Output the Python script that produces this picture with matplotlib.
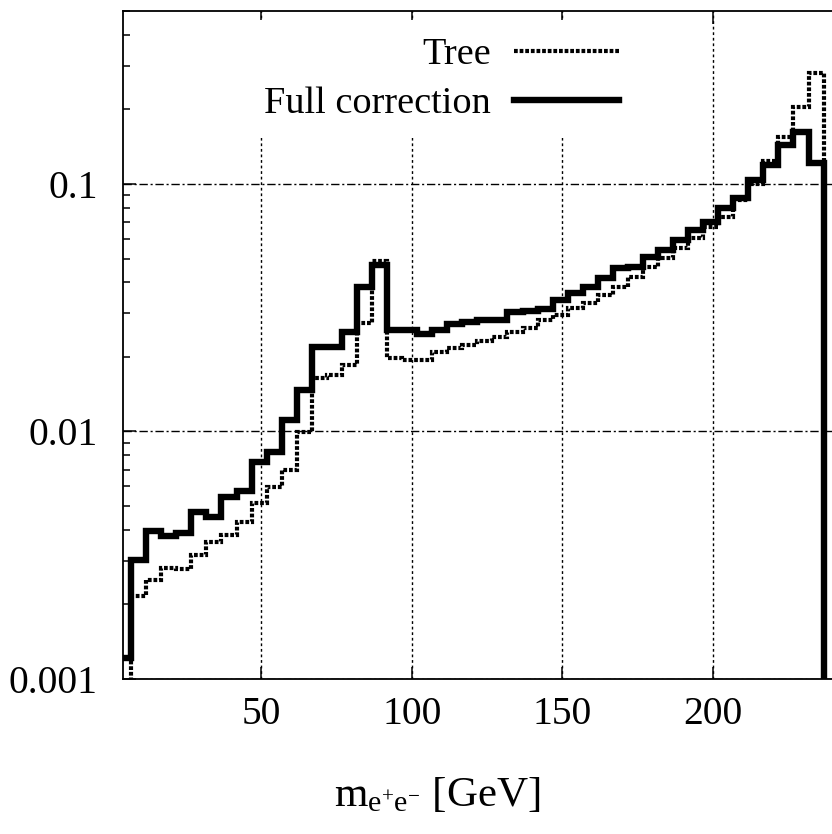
import matplotlib
matplotlib.use("Agg")
import matplotlib.pyplot as plt
from matplotlib.ticker import LogLocator, FixedLocator, NullFormatter, FixedFormatter
from matplotlib.lines import Line2D

plt.rcParams['font.family'] = ['Liberation Serif', 'DejaVu Serif']
plt.rcParams['mathtext.fontset'] = 'custom'
plt.rcParams['mathtext.rm'] = 'Liberation Serif'
plt.rcParams['mathtext.it'] = 'Liberation Serif:italic'

# bin edges in GeV
bin_edges = [1.8, 6.8, 11.8, 16.8, 21.8, 26.8, 31.8, 36.8, 41.8, 46.8, 51.8, 56.8,
             61.8, 66.8, 71.8, 76.8, 81.8, 86.8, 91.8, 96.8, 101.8, 106.8, 111.8,
             116.8, 121.8, 126.8, 131.8, 136.8, 141.8, 146.8, 151.8, 156.8, 161.8,
             166.8, 171.8, 176.8, 181.8, 186.8, 191.8, 196.8, 201.8, 206.8, 211.8,
             216.8, 221.8, 226.8, 231.8, 236.8]

full_correction = [0.00122, 0.00303, 0.00397, 0.00379, 0.00388, 0.00471, 0.00450, 0.00542,
                   0.00576, 0.00751, 0.00824, 0.0111, 0.0147, 0.0219, 0.0219, 0.0253,
                   0.0385, 0.0471, 0.0257, 0.0257, 0.0248, 0.0257, 0.0272, 0.0278,
                   0.0281, 0.0283, 0.0305, 0.0308, 0.0312, 0.0340, 0.0362, 0.0385,
                   0.0416, 0.0456, 0.0463, 0.0508, 0.0541, 0.0594, 0.0652, 0.0705,
                   0.0798, 0.0875, 0.1038, 0.1193, 0.1439, 0.1626, 0.1213]

tree = [0.0009, 0.00217, 0.00251, 0.00280, 0.00277, 0.00317, 0.00359, 0.00382,
        0.00432, 0.00513, 0.00595, 0.00699, 0.00998, 0.0164, 0.0169, 0.0186,
        0.0275, 0.049, 0.0198, 0.0195, 0.0195, 0.0210, 0.0217, 0.0224,
        0.0233, 0.0240, 0.0253, 0.0262, 0.0281, 0.0296, 0.0315, 0.0330,
        0.0356, 0.0385, 0.0422, 0.0463, 0.0501, 0.0550, 0.0603, 0.0673,
        0.0738, 0.0861, 0.100, 0.124, 0.155, 0.205, 0.280]

x_ticks = [50, 100, 150, 200]
y_ticks = [0.001, 0.01, 0.1]
y_tick_labels = ['0.001', '0.01', '0.1']
series_labels = ['Tree', 'Full correction']
x_label = r'$\mathrm{m}_{\mathrm{e}^{+}\mathrm{e}^{-}}$ [GeV]'

TREE_LW = 3.0
TREE_LS = (0, (0.9, 0.45))
FULL_LW = 4.6

fig = plt.figure(figsize=(8.32, 8.34), dpi=100)
ax = fig.add_axes([123/832, (834-679)/834, 1 - 123/832, (679-11)/834])

ax.set_yscale('log')
ax.set_xlim(4.1, 239.6)
ax.set_ylim(0.001, 0.5)

ax.stairs(tree, bin_edges, baseline=1e-6, color='black', lw=TREE_LW,
          linestyle=TREE_LS, zorder=3)
ax.stairs(full_correction, bin_edges, baseline=1e-6, color='black', lw=FULL_LW,
          zorder=4, joinstyle='miter')

# ticks
ax.xaxis.set_major_locator(FixedLocator(x_ticks))
ax.yaxis.set_major_locator(FixedLocator(y_ticks))
ax.yaxis.set_major_formatter(FixedFormatter(y_tick_labels))
ax.yaxis.set_minor_locator(LogLocator(base=10, subs=[2, 3, 4, 5, 6, 7, 8, 9]))
ax.yaxis.set_minor_formatter(NullFormatter())
ax.tick_params(axis='both', which='major', direction='in', length=9, width=1.1,
               labelsize=28.5, top=True, right=False)
ax.tick_params(axis='x', which='major', pad=12)
ax.tick_params(axis='y', which='major', pad=18)
ax.tick_params(axis='y', which='minor', direction='in', length=5, width=1.1, right=False)

# grid
ax.grid(axis='x', which='major', color='black', lw=1.0, linestyle=(0, (2, 2)))
ax.grid(axis='y', which='major', color='black', lw=1.0, linestyle=(0, (6, 2, 1.5, 2)))
ax.set_axisbelow(True)

for s in ['left', 'bottom', 'top']:
    ax.spines[s].set_linewidth(1.3)
ax.spines['right'].set_visible(False)

ax.set_xlabel(x_label, fontsize=31)
ax.xaxis.set_label_coords(0.443, -0.145)

h_tree = Line2D([], [], color='black', lw=TREE_LW, linestyle=TREE_LS)
h_full = Line2D([], [], color='black', lw=FULL_LW)
leg = ax.legend([h_tree, h_full], series_labels, loc='upper right',
                bbox_to_anchor=((636-123)/709, (679-20)/668), borderaxespad=0,
                markerfirst=False, fontsize=27.5, handlelength=2.75, handletextpad=0.6,
                labelspacing=0.38, borderpad=0.45, frameon=True, fancybox=False,
                facecolor='white', edgecolor='none', framealpha=1)
leg.set_zorder(5)

fig.savefig('out.png', dpi=100)
